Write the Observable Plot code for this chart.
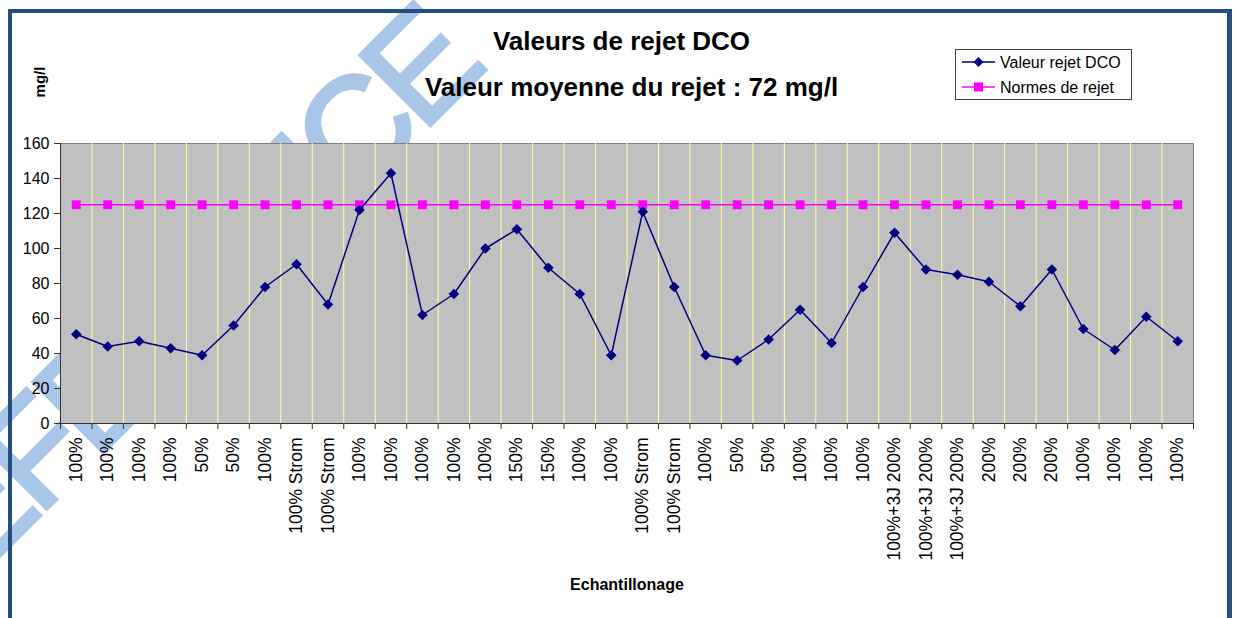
<!DOCTYPE html>
<html><head><meta charset="utf-8">
<script src="https://cdn.jsdelivr.net/npm/d3@7"></script>
<script src="https://cdn.jsdelivr.net/npm/@observablehq/plot@0.6"></script>
<style>
html,body{margin:0;padding:0;background:#fff;overflow:hidden;}
#wrap{position:relative;width:1237px;height:618px;overflow:hidden;font-family:Arial,"Liberation Sans",sans-serif;}
#wrap svg{position:absolute;left:0;top:0;}
#border{position:absolute;left:8px;top:9px;width:1215px;height:700px;border:4px solid #254e80;border-right-width:5px;}
</style></head><body><div id="wrap"></div>
<script>
const labels = ["100%","100%","100%","100%","50%","50%","100%","100% Strom","100% Strom","100%","100%","100%","100%","100%","150%","150%","100%","100%","100% Strom","100% Strom","100%","50%","50%","100%","100%","100%","100%+3J 200%","100%+3J 200%","100%+3J 200%","200%","200%","200%","100%","100%","100%","100%"];
const dcoValues = [51,44,47,43,39,56,78,91,68,122,143,62,74,100,111,89,74,39,121,78,39,36,48,65,46,78,109,88,85,81,67,88,54,42,61,47];
const normeValues = [125,125,125,125,125,125,125,125,125,125,125,125,125,125,125,125,125,125,125,125,125,125,125,125,125,125,125,125,125,125,125,125,125,125,125,125];
const yTicks = [0,20,40,60,80,100,120,140,160];
const seriesNames = ["Valeur rejet DCO","Normes de rejet"];
const titleText = "Valeurs de rejet DCO";
const subtitleText = "Valeur moyenne du rejet : 72 mg/l";
const yTitle = "mg/l";
const xTitle = "Echantillonage";
const watermarkText = "REFERENCE";

const FONT = "Arial, 'Liberation Sans', sans-serif";
const wrap = document.getElementById("wrap");

// watermark (behind everything)
const wm = d3.create("svg").attr("width",1237).attr("height",618);
wm.append("text").attr("transform","translate(484,72) rotate(-45)")
  .attr("text-anchor","end").attr("font-family",FONT).attr("font-size",145)
  .attr("letter-spacing",-9)
  .attr("fill","#a9c6e9").attr("stroke","#a9c6e9").attr("stroke-width",3.5)
  .text(watermarkText);
wrap.appendChild(wm.node());

const border = document.createElement("div");
border.id = "border";
wrap.appendChild(border);

const rows = labels.map((label,i)=>({i, label, dco: dcoValues[i], norme: normeValues[i]}));
const cx = d => d.i + 0.5;

const chart = Plot.plot({
  width:1237, height:618,
  marginLeft:60, marginRight:44, marginTop:143, marginBottom:195,
  style:{background:"transparent", fontFamily:FONT, fontSize:"16px", color:"#000", overflow:"visible"},
  x:{domain:[0,36], axis:null, label:null},
  y:{domain:[0,160], axis:null, label:null},
  marks:[
    Plot.frame({fill:"#c0c0c0", stroke:"#808080"}),
    Plot.ruleX(d3.range(1,36), {stroke:"#ffff99"}),
    Plot.ruleY([0], {stroke:"#333"}),
    Plot.ruleX([0], {stroke:"#333"}),
    Plot.axisY(yTicks, {tickSize:6, tickPadding:5, stroke:"#333", fontSize:16, label:null}),
    Plot.axisX(d3.range(0,37), {tickSize:6, tickFormat:()=>"", stroke:"#333", label:null}),
    Plot.axisX(rows.map(cx), {tickSize:0, tickPadding:14, tickRotate:-90, fontSize:17.5, label:null,
      tickFormat:v=>labels[Math.floor(v)]}),
    Plot.lineY(rows, {x:cx, y:"norme", stroke:"#ff00ff", strokeWidth:1.5}),
    Plot.dot(rows, {x:cx, y:"norme", symbol:"square", fill:"#ff00ff", r:5}),
    Plot.lineY(rows, {x:cx, y:"dco", stroke:"#000080", strokeWidth:1.5}),
    Plot.dot(rows, {x:cx, y:"dco", symbol:"diamond2", fill:"#000080", r:4.8})
  ]
});
wrap.appendChild(chart);

// foreground texts & legend
const fg = d3.create("svg").attr("width",1237).attr("height",618).style("pointer-events","none")
  .attr("font-family",FONT);
fg.append("text").attr("x",621.5).attr("y",50).attr("text-anchor","middle")
  .attr("font-weight","bold").attr("font-size",26).text(titleText);
fg.append("text").attr("x",631.5).attr("y",96).attr("text-anchor","middle")
  .attr("font-weight","bold").attr("font-size",26).text(subtitleText);
fg.append("text").attr("transform","translate(45,82) rotate(-90)").attr("text-anchor","middle")
  .attr("font-weight","bold").attr("font-size",15).text(yTitle);
fg.append("text").attr("x",627).attr("y",590).attr("text-anchor","middle")
  .attr("font-weight","bold").attr("font-size",16).text(xTitle);

const lg = fg.append("g");
lg.append("rect").attr("x",955.5).attr("y",49.5).attr("width",176).attr("height",50)
  .attr("fill","#fff").attr("stroke","#404040");
const legendItems = [
  {name:seriesNames[0], color:"#000080", sym:"diamond"},
  {name:seriesNames[1], color:"#ff00ff", sym:"square"}
];
legendItems.forEach((it,k)=>{
  const y = 62 + k*25;
  lg.append("line").attr("x1",962).attr("x2",995).attr("y1",y).attr("y2",y)
    .attr("stroke",it.color).attr("stroke-width",1.5);
  if (it.sym === "square") {
    lg.append("rect").attr("x",978.5-4.5).attr("y",y-4.5).attr("width",9).attr("height",9).attr("fill",it.color);
  } else {
    lg.append("path").attr("d",`M978.5,${y-5}L983.5,${y}L978.5,${y+5}L973.5,${y}Z`).attr("fill",it.color);
  }
  lg.append("text").attr("x",1000).attr("y",y+6).attr("font-size",16).text(it.name);
});
wrap.appendChild(fg.node());
</script>
</body></html>
